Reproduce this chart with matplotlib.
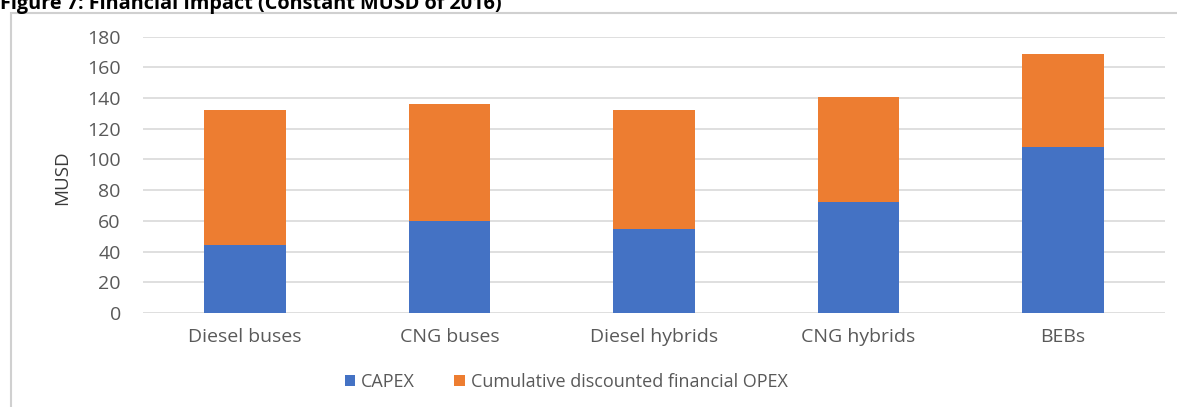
import matplotlib.pyplot as plt
from matplotlib.patches import Rectangle
import numpy as np

# data
categories = ["Diesel buses", "CNG buses", "Diesel hybrids", "CNG hybrids", "BEBs"]
capex = [44, 60, 55, 72, 108]
opex_total = [132, 136, 132.5, 140.5, 168.5]
opex = [t - c for t, c in zip(opex_total, capex)]
yticks = [0, 20, 40, 60, 80, 100, 120, 140, 160, 180]

plt.rcParams['font.family'] = ['Open Sans', 'DejaVu Sans']

W, H = 1177, 407
fig = plt.figure(figsize=(W / 100, H / 100), dpi=100)
ax = fig.add_axes([143 / W, 1 - 313 / H, (1165 - 143) / W, (313 - 36.7) / H])

x = np.arange(len(categories))
ax.bar(x, capex, width=0.4, color='#4472C4', label='CAPEX', zorder=3)
ax.bar(x, opex, width=0.4, bottom=capex, color='#ED7D31',
       label='Cumulative discounted financial OPEX', zorder=3)

ax.set_xlim(-0.5, len(categories) - 0.5)
ax.set_ylim(0, 180)
ax.set_yticks(yticks)
ax.set_xticks(x)
ax.set_xticklabels(categories)
ax.tick_params(axis='both', length=0, labelsize=14, colors='#595959')
ax.tick_params(axis='y', pad=16)
ax.tick_params(axis='x', pad=11)
ax.grid(axis='y', color='#d9d9d9', linewidth=1.2, zorder=0)
for s in ax.spines.values():
    s.set_visible(False)

fig.text(62 / W, 1 - 178 / H, 'MUSD', rotation=90, ha='center', va='center',
         fontsize=13.5, color='#3a3a3a')

# figure title, partly cut off at the top like the source
fig.text(0.0, 1 - 8.5 / H, 'Figure 7: Financial Impact (Constant MUSD of 2016)',
         fontsize=14.3, fontweight='bold', color='black', ha='left', va='baseline')

# light border round the chart
fig.patches.append(Rectangle((11 / W, -0.05), 1.1, 1 - 13 / H + 0.05,
                             transform=fig.transFigure, fill=False,
                             edgecolor='#d0d0d0', linewidth=1.5))

fig.legend(loc='center', bbox_to_anchor=(566 / W, 1 - 382 / H), ncol=2,
           frameon=False, fontsize=13, handlelength=0.6, handleheight=0.6,
           handletextpad=0.3, columnspacing=2.2, labelcolor='#595959')

fig.savefig('out.png', dpi=100)
